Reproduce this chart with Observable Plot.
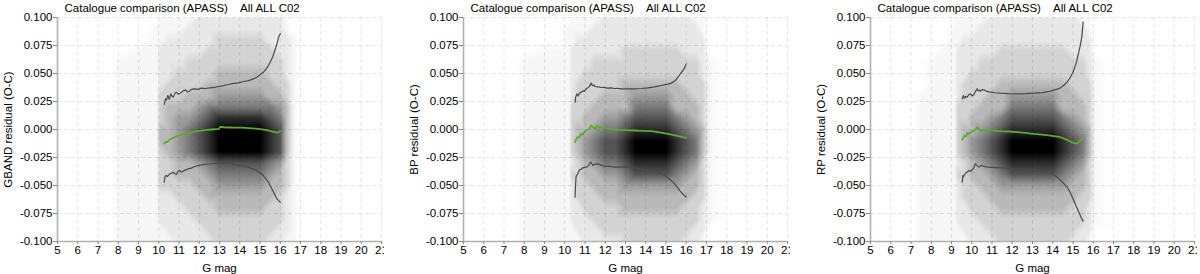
<!DOCTYPE html>
<html><head><meta charset="utf-8">
<script src="https://cdn.jsdelivr.net/npm/d3@7"></script>
<script src="https://cdn.jsdelivr.net/npm/@observablehq/plot@0.6"></script>
<style>
html,body{margin:0;padding:0;background:#fff;}
#wrap{position:relative;width:1200px;height:274px;overflow:hidden;background:#fff;font-family:"Liberation Sans",Arial,sans-serif;}
.panel{position:absolute;top:0;height:274px;width:384px;overflow:hidden;}
.panel svg{max-width:none !important;width:400px;height:274px;}
</style></head><body><div id="wrap"></div>
<script>
const title = "Catalogue comparison (APASS)    All ALL C02";
const xLabel = "G mag";
const xTicks = [5,6,7,8,9,10,11,12,13,14,15,16,17,18,19,20,21];
const yTicks = [-0.1,-0.075,-0.05,-0.025,0,0.025,0.05,0.075,0.1];
// density sample rows (top to bottom); digits 0-9 = darkness
const gridY = [0.10,0.09,0.08,0.07,0.06,0.05,0.04,0.03,0.02,0.01,0.00,-0.01,-0.02,-0.03,-0.04,-0.05,-0.06,-0.07,-0.08,-0.09,-0.10];

// ---------- GBAND ----------
const gbandLabel = "GBAND residual (O-C)";
const gbandGx = [5,6,7,7.5,8,9,9.9,10.05,10.5,11,11.5,12,12.5,13,13.5,14,14.5,15,15.5,16,16.3,16.7,17,18,19,20,21];
const gbandCols = [
"000000000000000000000","000000000000000000000","000000000000000000000","000000000000000000000",
"000011111111111111111","000111111111111111111","011111111111111111111",
"111222233344333322211","112222334444433322221","112223334555544332222","122233344566644333222",
"222233345677754433322","222333446788865443332","223334456899976544333","223334456899976544333",
"223334456899976544333","223334456899976544333","223334456899976544333","222333446788865443332",
"222233345677754433322","112222334444433322221","001111111111111111111",
"000000000000000000000","000000000000000000000","000000000000000000000","000000000000000000000","000000000000000000000"];
const gbandUpper = [[10.27,0.0223],[10.33,0.0274],[10.38,0.0262],[10.45,0.0304],[10.52,0.0270],[10.60,0.0318],[10.66,0.0296],[10.72,0.0289],[10.80,0.0325],[10.87,0.0333],[10.95,0.0316],[11.06,0.0324],[11.20,0.0345],[11.33,0.0354],[11.41,0.0336],[11.50,0.0342],[11.62,0.0358],[11.78,0.0363],[11.95,0.0358],[12.11,0.0369],[12.30,0.0366],[12.53,0.0372],[12.75,0.0376],[12.94,0.0384],[13.20,0.0392],[13.44,0.0402],[13.62,0.0409],[13.93,0.0417],[14.15,0.0426],[14.43,0.0437],[14.65,0.0450],[14.84,0.0467],[15.00,0.0490],[15.17,0.0512],[15.30,0.0540],[15.42,0.0571],[15.52,0.0608],[15.62,0.0646],[15.70,0.0690],[15.79,0.0735],[15.86,0.0780],[15.92,0.0824],[16.00,0.0854]];
const gbandMedian = [[10.27,-0.0125],[10.36,-0.0108],[10.43,-0.0112],[10.52,-0.0092],[10.60,-0.0085],[10.70,-0.0074],[10.80,-0.0068],[10.90,-0.0060],[11.04,-0.0052],[11.20,-0.0043],[11.37,-0.0036],[11.53,-0.0030],[11.70,-0.0022],[11.90,-0.0015],[12.11,-0.0010],[12.35,-0.0004],[12.60,0.0000],[12.85,0.0004],[12.98,0.0006],[13.02,0.0024],[13.20,0.0020],[13.50,0.0018],[13.80,0.0017],[14.10,0.0016],[14.43,0.0013],[14.80,0.0008],[15.10,0.0002],[15.40,-0.0008],[15.62,-0.0018],[15.80,-0.0025],[15.90,-0.0026],[16.00,-0.0014]];
const gbandLower = [[10.27,-0.0470],[10.30,-0.0426],[10.36,-0.0408],[10.42,-0.0420],[10.54,-0.0396],[10.63,-0.0390],[10.71,-0.0381],[10.79,-0.0395],[10.87,-0.0402],[10.96,-0.0372],[11.04,-0.0366],[11.12,-0.0380],[11.20,-0.0372],[11.37,-0.0358],[11.45,-0.0351],[11.60,-0.0345],[11.78,-0.0330],[11.95,-0.0322],[12.11,-0.0315],[12.30,-0.0312],[12.61,-0.0306],[12.80,-0.0303],[13.02,-0.0298],[13.20,-0.0300],[13.44,-0.0300],[13.77,-0.0315],[14.10,-0.0322],[14.43,-0.0336],[14.84,-0.0366],[15.17,-0.0411],[15.42,-0.0470],[15.67,-0.0560],[15.84,-0.0620],[16.00,-0.0650]];

// ---------- BP ----------
const bpLabel = "BP residual (O-C)";
const bpGx = [5,6,7,7.5,8,9,10.2,10.35,10.7,11,11.5,12,12.5,13,13.5,14,14.5,15,15.5,16,16.5,16.8,17.2,18,19,20,21];
const bpCols = [
"000000000000000000000","000000000000000000000","000000000000000000000","000000000000000000000",
"000011111111111111111","000111111111111111111","011111111111111111111",
"111222223333323222211","112222333344433332221","112223333445544333222","122233334456654433322",
"222233344567765443332","222233344567765443332","222333444678876544333","222333456789987544333",
"222333456789987544333","222333456789987544333","222333456789987544333","222333444678876544333",
"222233344567765443332","122233334456654433322","112222333344433332221","000011111111111111100",
"000000000000000000000","000000000000000000000","000000000000000000000","000000000000000000000"];
const bpUpper = [[10.51,0.0244],[10.54,0.0289],[10.60,0.0318],[10.66,0.0300],[10.73,0.0325],[10.81,0.0333],[10.89,0.0345],[10.97,0.0340],[11.06,0.0363],[11.14,0.0372],[11.22,0.0385],[11.30,0.0414],[11.36,0.0392],[11.43,0.0398],[11.50,0.0384],[11.63,0.0380],[11.80,0.0375],[11.96,0.0376],[12.10,0.0370],[12.29,0.0372],[12.46,0.0366],[12.62,0.0368],[12.79,0.0363],[13.12,0.0364],[13.45,0.0363],[13.78,0.0366],[14.11,0.0372],[14.44,0.0380],[14.77,0.0393],[15.10,0.0405],[15.26,0.0414],[15.45,0.0435],[15.59,0.0467],[15.72,0.0500],[15.84,0.0527],[15.93,0.0555],[16.00,0.0586]];
const bpMedian = [[10.51,-0.0113],[10.56,-0.0090],[10.64,-0.0068],[10.70,-0.0072],[10.81,-0.0040],[10.89,-0.0045],[10.97,-0.0024],[11.06,-0.0010],[11.14,0.0000],[11.22,0.0006],[11.30,0.0036],[11.36,0.0027],[11.43,0.0018],[11.50,0.0006],[11.58,0.0033],[11.66,0.0022],[11.80,0.0020],[12.00,0.0012],[12.30,0.0004],[12.62,-0.0003],[13.00,-0.0006],[13.45,-0.0009],[13.80,-0.0012],[14.27,-0.0015],[14.60,-0.0024],[15.10,-0.0039],[15.50,-0.0055],[16.00,-0.0074]];
const bpLower = [[10.51,-0.0604],[10.53,-0.0500],[10.56,-0.0420],[10.64,-0.0395],[10.73,-0.0360],[10.81,-0.0355],[10.89,-0.0342],[11.00,-0.0338],[11.14,-0.0330],[11.25,-0.0300],[11.30,-0.0292],[11.39,-0.0322],[11.47,-0.0310],[11.63,-0.0307],[11.80,-0.0318],[11.96,-0.0330],[12.15,-0.0326],[12.46,-0.0336],[12.79,-0.0334],[13.12,-0.0336],[13.45,-0.0342],[13.78,-0.0351],[14.11,-0.0360],[14.44,-0.0372],[14.70,-0.0390],[14.93,-0.0411],[15.15,-0.0440],[15.35,-0.0470],[15.52,-0.0505],[15.68,-0.0545],[15.84,-0.0578],[16.00,-0.0604]];

// ---------- RP ----------
const rpLabel = "RP residual (O-C)";
const rpGx = [5,6,7,7.5,8,8.5,9.15,9.3,9.7,10,10.5,11,11.5,12,12.5,13,13.5,14,14.5,15,15.5,15.8,16.1,17,18,20,21];
const rpCols = [
"000000000000000000000","000000000000000000000","000000000000000000000",
"000000011111111111111","000011111111111111111","000111111111111111111","011111111111111111111",
"111222223333323222211","112222333344433332221","112223333445544333222","122233334456654433322",
"222233344567765443332","222333444678876544333","222333456789987544333","222333456789987544333",
"222333456789987544333","222333456789987544333","222333456789987544333","222333444678876544333",
"222233344567765443332","122233334456654433322","112222333344433332221","000011111111111111100",
"000000000000000000000","000000000000000000000","000000000000000000000","000000000000000000000"];
const rpUpper = [[9.53,0.0274],[9.58,0.0304],[9.64,0.0280],[9.69,0.0295],[9.77,0.0289],[9.86,0.0312],[9.94,0.0318],[10.02,0.0300],[10.10,0.0310],[10.18,0.0340],[10.27,0.0363],[10.31,0.0345],[10.35,0.0352],[10.43,0.0342],[10.51,0.0356],[10.60,0.0354],[10.76,0.0340],[10.92,0.0333],[11.15,0.0328],[11.42,0.0324],[11.80,0.0320],[12.24,0.0318],[12.65,0.0320],[13.06,0.0324],[13.50,0.0330],[13.89,0.0342],[14.22,0.0360],[14.38,0.0372],[14.55,0.0395],[14.71,0.0423],[14.85,0.0460],[14.96,0.0497],[15.08,0.0550],[15.17,0.0601],[15.26,0.0670],[15.34,0.0735],[15.41,0.0800],[15.45,0.0854],[15.50,0.0958]];
const rpMedian = [[9.53,-0.0092],[9.58,-0.0074],[9.64,-0.0055],[9.72,-0.0060],[9.77,-0.0033],[9.86,-0.0040],[9.94,-0.0025],[10.02,-0.0015],[10.10,-0.0012],[10.18,0.0000],[10.27,0.0021],[10.35,0.0005],[10.43,-0.0009],[10.60,-0.0004],[10.76,-0.0003],[11.00,-0.0008],[11.42,-0.0015],[11.80,-0.0018],[12.24,-0.0024],[12.65,-0.0030],[13.06,-0.0039],[13.50,-0.0046],[13.89,-0.0054],[14.38,-0.0069],[14.71,-0.0092],[14.96,-0.0115],[15.10,-0.0124],[15.20,-0.0122],[15.34,-0.0104],[15.50,-0.0074]];
const rpLower = [[9.53,-0.0470],[9.56,-0.0411],[9.60,-0.0420],[9.69,-0.0390],[9.77,-0.0380],[9.86,-0.0366],[9.94,-0.0372],[10.02,-0.0360],[10.10,-0.0345],[10.18,-0.0306],[10.25,-0.0320],[10.35,-0.0336],[10.43,-0.0325],[10.51,-0.0321],[10.60,-0.0330],[10.76,-0.0336],[11.00,-0.0338],[11.42,-0.0342],[11.80,-0.0346],[12.24,-0.0351],[12.65,-0.0355],[13.06,-0.0360],[13.40,-0.0368],[13.72,-0.0381],[14.00,-0.0400],[14.22,-0.0426],[14.45,-0.0465],[14.71,-0.0515],[14.88,-0.0570],[15.04,-0.0634],[15.17,-0.0690],[15.29,-0.0738],[15.40,-0.0785],[15.50,-0.0818]];

const panels = [
  {left: 0,   label: gbandLabel, gx: gbandGx, cols: gbandCols, upper: gbandUpper, median: gbandMedian, lower: gbandLower},
  {left: 406, label: bpLabel,    gx: bpGx,    cols: bpCols,    upper: bpUpper,    median: bpMedian,    lower: bpLower},
  {left: 813, label: rpLabel,    gx: rpGx,    cols: rpCols,    upper: rpUpper,    median: rpMedian,    lower: rpLower}
];

const font = "'Liberation Sans', Arial, Helvetica, sans-serif";
const wrap = document.getElementById("wrap");

for (const p of panels) {
  const pts = [];
  p.gx.forEach((x, i) => {
    const s = p.cols[i];
    gridY.forEach((y, j) => pts.push({x, y, v: +(s[j] || 0)}));
  });
  const grid = {stroke: "#000", strokeOpacity: 0.1, strokeDasharray: "4,3", strokeWidth: 1};
  const chart = Plot.plot({
    width: 400, height: 274,
    marginLeft: 57, marginRight: 19, marginTop: 17, marginBottom: 33,
    style: {fontFamily: font, fontSize: "11.5px", color: "#000", background: "#fff", maxWidth: "none"},
    x: {domain: [5, 21]},
    y: {domain: [-0.1, 0.1]},
    color: {type: "pow", exponent: 1.6, domain: [0, 9], range: ["#ffffff", "#000000"]},
    marks: [
      Plot.raster(pts, {x: "x", y: "y", fill: "v", interpolate: "barycentric", pixelSize: 1}),
      Plot.ruleX(xTicks, grid),
      Plot.ruleY(yTicks, grid),
      Plot.line(p.upper, {x: d => d[0], y: d => d[1], stroke: "#4a4a4a", strokeWidth: 1.2}),
      Plot.line(p.lower, {x: d => d[0], y: d => d[1], stroke: "#4a4a4a", strokeWidth: 1.2}),
      Plot.line(p.median, {x: d => d[0], y: d => d[1], stroke: "#5fa833", strokeWidth: 1.8}),
      Plot.ruleX([5], {stroke: "#b0b0b0", strokeWidth: 1.6}),
      Plot.ruleY([-0.1], {stroke: "#b0b0b0", strokeWidth: 1.6}),
      Plot.axisX({ticks: xTicks, tickFormat: d => String(d), tickSize: 3, tickPadding: 1, stroke: "#888",
        label: xLabel, labelAnchor: "center", labelArrow: false, labelOffset: 30, fontSize: 11.5}),
      Plot.axisY({ticks: yTicks, tickFormat: d => d.toFixed(3), tickSize: 4, tickPadding: 1, stroke: "#888",
        label: p.label, labelAnchor: "center", labelArrow: false, labelOffset: 54, fontSize: 11.5}),
      Plot.text([title], {frameAnchor: "top-left", text: d => d, dx: 7, dy: -9, textAnchor: "start", lineAnchor: "middle", fontSize: 11.5, fill: "#000"})
    ]
  });
  const div = document.createElement("div");
  div.className = "panel";
  div.style.left = p.left + "px";
  div.appendChild(chart);
  wrap.appendChild(div);
}
</script>
</body></html>
